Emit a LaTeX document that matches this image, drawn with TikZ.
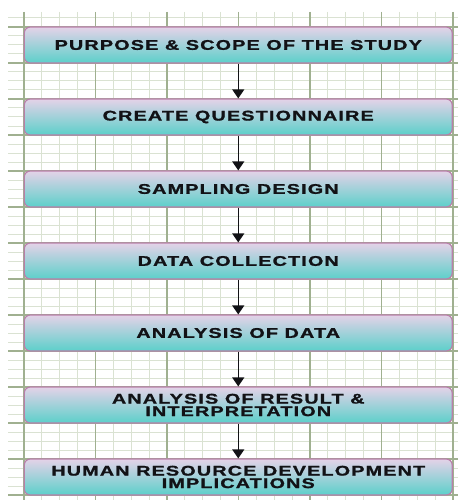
\documentclass[tikz,border=0pt]{standalone}
\usepackage{fontspec}
\setmainfont{Liberation Sans}
\newfontfamily\boxfont[LetterSpace=6,FakeBold=1.2]{Liberation Sans Bold}
\usetikzlibrary{arrows.meta}
\definecolor{gridminor}{RGB}{218,226,210}
\definecolor{gridmajor}{RGB}{160,176,144}
\definecolor{boxtop}{RGB}{228,210,232}
\definecolor{boxbottom}{RGB}{92,208,202}
\definecolor{boxedge}{RGB}{184,128,170}
\definecolor{ink}{RGB}{18,18,22}
\newcommand{\wide}[1]{\scalebox{1.41}[1]{#1}}
\begin{document}
\begin{tikzpicture}[x=1pt,y=-1pt,
  stepbox/.style={draw=boxedge, line width=1.2pt, rounded corners=6pt,
    top color=boxtop, bottom color=boxbottom,
    minimum width=428pt, minimum height=36pt, inner sep=0pt,
    font=\boxfont\fontsize{14}{12.5}\selectfont, text=ink, align=center},
  flow/.style={-{Triangle[width=12pt,length=9pt]}, line width=1.3pt, draw=ink}]
  \useasboundingbox (0,0) rectangle (458,500);
  % graph-paper background
  \foreach \k in {0,...,24} {
    \pgfmathsetmacro{\xx}{24+17.875*\k}
    \draw[gridminor, line width=1pt] (\xx,12) -- (\xx,500);
  }
  \foreach \j in {0,...,53} {
    \pgfmathsetmacro{\yy}{18+9*\j}
    \draw[gridminor, line width=1pt] (8,\yy) -- (458,\yy);
  }
  \foreach \k in {0,...,6} {
    \pgfmathsetmacro{\xx}{24+71.5*\k}
    \draw[gridmajor, line width=1.1pt] (\xx,12) -- (\xx,500);
  }
  \foreach \j in {0,...,13} {
    \pgfmathsetmacro{\yy}{27+36*\j}
    \draw[gridmajor, line width=1.1pt] (8,\yy) -- (458,\yy);
  }
  % process steps
  \node[stepbox] (b1) at (238.25,45)  {\wide{PURPOSE \& SCOPE OF THE STUDY}};
  \node[stepbox] (b2) at (238.25,117) {\wide{CREATE QUESTIONNAIRE}};
  \node[stepbox] (b3) at (238.25,189) {\wide{SAMPLING DESIGN}};
  \node[stepbox] (b4) at (238.25,261) {\wide{DATA COLLECTION}};
  \node[stepbox] (b5) at (238.25,333) {\wide{ANALYSIS OF DATA}};
  \node[stepbox] (b6) at (238.25,405) {\wide{ANALYSIS OF RESULT \&}\\\wide{INTERPRETATION}};
  \node[stepbox] (b7) at (238.25,477) {\wide{HUMAN RESOURCE DEVELOPMENT}\\\wide{IMPLICATIONS}};
  % connectors
  \foreach \a/\b in {b1/b2,b2/b3,b3/b4,b4/b5,b5/b6,b6/b7}
    \draw[flow] (\a.south) -- (\b.north);
\end{tikzpicture}
\end{document}
